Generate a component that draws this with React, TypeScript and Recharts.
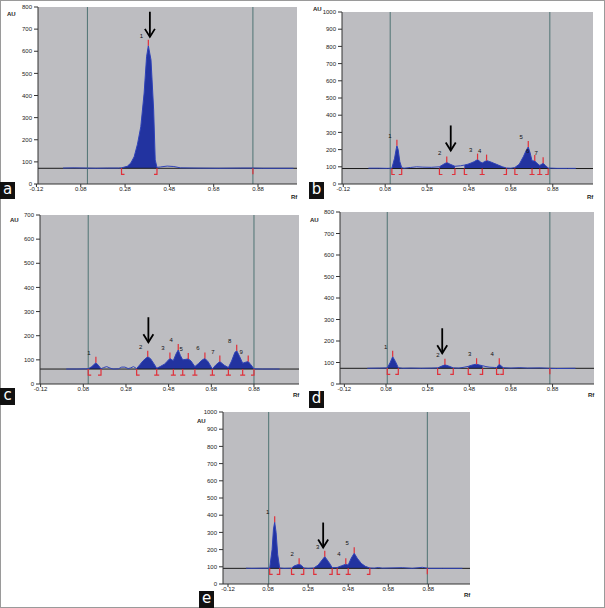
import React from "react";
import { ComposedChart, Area, Line, Scatter, XAxis, YAxis, CartesianGrid, ReferenceLine } from "recharts";

type Pt = [number, number];
// label, start Rf, top Rf, top AU, end Rf
type Peak = [string, number, number, number, number];

const RF_TICKS = [-0.12, 0.08, 0.28, 0.48, 0.68, 0.88];
const AU_TICKS_700 = [0, 100, 200, 300, 400, 500, 600, 700];
const AU_TICKS_800 = [0, 100, 200, 300, 400, 500, 600, 700, 800];
const AU_TICKS_1000 = [0, 100, 200, 300, 400, 500, 600, 700, 800, 900, 1000];

// a
const traceA: Pt[] = [
  [0.0, 72], [0.05, 73], [0.1, 72], [0.15, 71], [0.2, 72], [0.25, 72], [0.264, 73], [0.29, 80],
  [0.306, 95], [0.321, 123], [0.336, 180], [0.351, 259], [0.366, 411], [0.377, 575], [0.385, 625],
  [0.397, 561], [0.409, 335], [0.416, 109], [0.424, 75], [0.44, 77], [0.47, 81], [0.5, 79],
  [0.53, 73], [0.6, 72], [0.7, 71], [0.8, 72], [0.857, 72], [0.9, 71], [1.04, 71],
];
const peaksA: Peak[] = [["1", 0.264, 0.385, 625, 0.424]];
const frontsA = [0.11, 0.857];
const marksA = [0.857];
const arrowA: Pt = [0.392, 665];
const baseA = 71;

// b
const traceB: Pt[] = [
  [0.0, 92], [0.05, 92], [0.09, 91], [0.112, 92], [0.125, 150], [0.133, 205], [0.136, 222],
  [0.142, 200], [0.15, 130], [0.159, 95], [0.17, 92], [0.2, 96], [0.23, 100], [0.26, 98],
  [0.3, 97], [0.339, 100], [0.355, 112], [0.374, 125], [0.39, 115], [0.413, 103], [0.44, 106],
  [0.458, 110], [0.475, 115], [0.49, 122], [0.505, 130], [0.521, 142], [0.535, 128], [0.543, 122],
  [0.552, 128], [0.564, 136], [0.58, 130], [0.6, 120], [0.62, 110], [0.64, 100], [0.659, 93],
  [0.68, 92], [0.699, 96], [0.72, 115], [0.74, 160], [0.755, 200], [0.763, 215], [0.772, 180],
  [0.781, 135], [0.794, 133], [0.81, 115], [0.818, 108], [0.834, 120], [0.845, 108], [0.858, 93],
  [0.9, 91], [0.95, 91], [0.99, 91],
];
const peaksB: Peak[] = [
  ["1", 0.112, 0.136, 222, 0.159],
  ["2", 0.339, 0.374, 125, 0.413],
  ["3", 0.458, 0.521, 142, 0.543],
  ["4", 0.543, 0.564, 136, 0.659],
  ["5", 0.699, 0.763, 215, 0.781],
  ["6", 0.781, 0.794, 133, 0.818],
  ["7", 0.818, 0.834, 120, 0.858],
];
const frontsB = [0.104, 0.866];
const marksB: number[] = [];
const arrowB: Pt = [0.393, 195];
const baseB = 90;

// c
const traceC: Pt[] = [
  [0.0, 62], [0.05, 62], [0.09, 63], [0.103, 63], [0.12, 72], [0.139, 88], [0.15, 78], [0.163, 63],
  [0.175, 68], [0.19, 72], [0.205, 66], [0.22, 62], [0.245, 63], [0.26, 70], [0.275, 70], [0.29, 64],
  [0.3, 66], [0.315, 72], [0.33, 64], [0.345, 80], [0.36, 96], [0.375, 108], [0.382, 113],
  [0.395, 105], [0.41, 85], [0.424, 65], [0.44, 72], [0.46, 82], [0.475, 95], [0.486, 106],
  [0.495, 100], [0.502, 97], [0.515, 125], [0.525, 141], [0.535, 118], [0.546, 100], [0.56, 102],
  [0.572, 104], [0.585, 95], [0.603, 72], [0.62, 85], [0.635, 98], [0.65, 106], [0.665, 92],
  [0.685, 62], [0.7, 78], [0.72, 93], [0.74, 78], [0.76, 68], [0.775, 95], [0.79, 130], [0.799, 138],
  [0.812, 115], [0.827, 86], [0.84, 90], [0.853, 93], [0.865, 80], [0.88, 63], [0.92, 62],
  [0.97, 62], [1.0, 62],
];
const peaksC: Peak[] = [
  ["1", 0.103, 0.139, 88, 0.163],
  ["2", 0.33, 0.382, 113, 0.424],
  ["3", 0.424, 0.486, 106, 0.502],
  ["4", 0.502, 0.525, 141, 0.546],
  ["5", 0.546, 0.572, 104, 0.603],
  ["6", 0.603, 0.65, 106, 0.685],
  ["7", 0.685, 0.72, 93, 0.76],
  ["8", 0.76, 0.799, 138, 0.827],
  ["9", 0.827, 0.853, 93, 0.88],
];
const frontsC = [0.103, 0.88];
const marksC: number[] = [];
const arrowC: Pt = [0.385, 173];
const baseC = 62;

// d
const traceD: Pt[] = [
  [-0.01, 73], [0.05, 74], [0.086, 75], [0.1, 100], [0.112, 127], [0.125, 105], [0.139, 76],
  [0.16, 73], [0.2, 74], [0.25, 73], [0.3, 74], [0.328, 75], [0.345, 82], [0.363, 89], [0.38, 84],
  [0.403, 75], [0.43, 74], [0.455, 78], [0.475, 82], [0.5, 90], [0.515, 92], [0.53, 88], [0.544, 85],
  [0.56, 81], [0.579, 78], [0.6, 77], [0.611, 76], [0.624, 92], [0.643, 76], [0.68, 74],
  [0.723, 76], [0.76, 74], [0.82, 75], [0.86, 73], [0.9, 72], [0.99, 73],
];
const peaksD: Peak[] = [
  ["1", 0.086, 0.112, 127, 0.139],
  ["2", 0.328, 0.363, 89, 0.403],
  ["3", 0.475, 0.515, 92, 0.544],
  ["4", 0.611, 0.624, 92, 0.643],
];
const frontsD = [0.086, 0.867];
const marksD = [0.867];
const arrowD: Pt = [0.35, 143];
const baseD = 73;

// e
const traceE: Pt[] = [
  [-0.03, 92], [0.0, 91], [0.05, 92], [0.088, 92], [0.1, 200], [0.107, 320], [0.113, 359],
  [0.12, 300], [0.128, 170], [0.138, 93], [0.16, 91], [0.197, 92], [0.21, 105], [0.235, 115],
  [0.247, 108], [0.258, 93], [0.28, 91], [0.308, 93], [0.33, 110], [0.35, 140], [0.363, 159],
  [0.375, 140], [0.39, 115], [0.4, 95], [0.425, 96], [0.445, 105], [0.468, 115], [0.48, 110],
  [0.495, 150], [0.51, 179], [0.525, 150], [0.545, 120], [0.565, 103], [0.588, 93], [0.61, 92],
  [0.63, 96], [0.65, 92], [0.75, 95], [0.8, 91], [0.85, 97], [0.88, 91], [0.95, 91], [1.05, 91],
];
const peaksE: Peak[] = [
  ["1", 0.088, 0.113, 359, 0.138],
  ["2", 0.197, 0.235, 115, 0.258],
  ["3", 0.308, 0.363, 159, 0.4],
  ["4", 0.425, 0.468, 115, 0.48],
  ["5", 0.48, 0.51, 179, 0.588],
];
const frontsE = [0.083, 0.875];
const marksE = [0.875];
const arrowE: Pt = [0.355, 212];
const baseE = 91;

const PLOT_BG = "#bdbdc1";
const FILL = "#2233a0";
const TRACE = "#2f42b8";
const RED = "#e0303a";
const FONT = "'Liberation Sans', Arial, sans-serif";

const panels = [
  { key: "a", trace: traceA, peaks: peaksA, fronts: frontsA, marks: marksA, arrow: arrowA, base: baseA, yTicks: AU_TICKS_800,
    box: { x: 38, y: 7, w: 259, h: 177 }, xDomain: [-0.113, 1.056],
    au: [7, 11], rf: [291, 194], tag: [0, 182] },
  { key: "b", trace: traceB, peaks: peaksB, fronts: frontsB, marks: marksB, arrow: arrowB, base: baseB, yTicks: AU_TICKS_1000,
    box: { x: 342, y: 12, w: 251, h: 172 }, xDomain: [-0.126, 1.072],
    au: [313, 6], rf: [587, 194], tag: [309, 182] },
  { key: "c", trace: traceC, peaks: peaksC, fronts: frontsC, marks: marksC, arrow: arrowC, base: baseC, yTicks: AU_TICKS_700,
    box: { x: 40, y: 215, w: 259, h: 169 }, xDomain: [-0.123, 1.091],
    au: [10, 217], rf: [293, 392], tag: [0, 388] },
  { key: "d", trace: traceD, peaks: peaksD, fronts: frontsD, marks: marksD, arrow: arrowD, base: baseD, yTicks: AU_TICKS_800,
    box: { x: 340, y: 212, w: 254, h: 172 }, xDomain: [-0.141, 1.079],
    au: [310, 217], rf: [588, 392], tag: [309, 391] },
  { key: "e", trace: traceE, peaks: peaksE, fronts: frontsE, marks: marksE, arrow: arrowE, base: baseE, yTicks: AU_TICKS_1000,
    box: { x: 223, y: 412, w: 247, h: 172 }, xDomain: [-0.145, 1.088],
    au: [197, 418], rf: [464, 592], tag: [199, 591] },
];

const TopMark = (props: any) => {
  const { cx, cy, payload } = props;
  return (
    <g>
      <line x1={cx} x2={cx} y1={cy - 6} y2={cy} stroke={RED} strokeWidth={1.2} />
      <text x={cx - 7} y={cy - 8} fontSize={6} fill="#111" textAnchor="middle" fontFamily={FONT}>
        {payload.label}
      </text>
    </g>
  );
};

const BoundMark = (props: any) => {
  const { cx, cy, payload } = props;
  const k = payload.kind;
  let d = `M${cx},${cy} V${cy + 6}`;
  if (k === "s") d += ` H${cx + 3}`;
  if (k === "e") d += ` H${cx - 3}`;
  if (k === "j") d = `M${cx},${cy} V${cy + 6} M${cx - 2.5},${cy + 6} H${cx + 2.5}`;
  return <path d={d} stroke={RED} strokeWidth={1.2} fill="none" />;
};

const ArrowMark = (props: any) => {
  const { cx, cy } = props;
  return (
    <g stroke="#000" strokeWidth={1.8} fill="none">
      <line x1={cx} x2={cx} y1={cy - 25} y2={cy} />
      <polyline points={`${cx - 5},${cy - 8} ${cx},${cy} ${cx + 5},${cy - 8}`} />
    </g>
  );
};

const Panel = ({ p }: { p: any }) => {
  const inPeak = (rf: number) => p.peaks.some((k: Peak) => rf >= k[1] - 1e-6 && rf <= k[4] + 1e-6);
  const rows = p.trace.map(([rf, au]: Pt) => ({ rf, au, fill: inPeak(rf) ? au : null }));
  const tops = p.peaks.map((k: Peak) => ({ rf: k[2], au: k[3], label: k[0] }));
  const starts = p.peaks.map((k: Peak) => k[1]);
  const ends = p.peaks.map((k: Peak) => k[4]);
  const bounds: any[] = [];
  starts.forEach((s: number) => bounds.push({ rf: s, au: p.base, kind: ends.includes(s) ? "j" : "s" }));
  ends.forEach((e: number) => { if (!starts.includes(e)) bounds.push({ rf: e, au: p.base, kind: "e" }); });
  p.marks.forEach((m: number) => bounds.push({ rf: m, au: p.base, kind: "f" }));
  const arrow = [{ rf: p.arrow[0], au: p.arrow[1] }];
  const { x, y, w, h } = p.box;

  return (
    <>
      <div style={{ position: "absolute", left: x - 30, top: y - 5 }}>
        <ComposedChart width={w + 35} height={h + 20} data={rows} margin={{ top: 5, right: 5, bottom: 0, left: 0 }}>
          <CartesianGrid fill={PLOT_BG} stroke="none" horizontal={false} vertical={false} />
          <XAxis type="number" dataKey="rf" domain={p.xDomain} ticks={RF_TICKS} interval={0} allowDataOverflow
            tickFormatter={(v: number) => v.toFixed(2)} height={15} tickSize={3} tickMargin={0}
            stroke="#333" tick={{ fontSize: 6, fill: "#222", fontFamily: FONT }} />
          <YAxis type="number" domain={[0, p.yTicks[p.yTicks.length - 1]]} ticks={p.yTicks} interval={0} width={30}
            tickSize={4} tickMargin={2} stroke="#333" tick={{ fontSize: 6, fill: "#222", fontFamily: FONT }} />
          <ReferenceLine y={p.base} stroke="#1a1a1a" strokeWidth={1} />
          {p.fronts.map((f: number) => (
            <ReferenceLine key={f} x={f} stroke="#4f7373" strokeWidth={1} />
          ))}
          <Area type="linear" dataKey="fill" baseValue={p.base} stroke="none" fill={FILL} fillOpacity={1}
            connectNulls={false} isAnimationActive={false} />
          <Line type="linear" dataKey="au" stroke={TRACE} strokeWidth={1} dot={false} isAnimationActive={false} />
          <Scatter data={bounds} dataKey="au" shape={BoundMark} isAnimationActive={false} />
          <Scatter data={tops} dataKey="au" shape={TopMark} isAnimationActive={false} />
          <Scatter data={arrow} dataKey="au" shape={ArrowMark} isAnimationActive={false} />
        </ComposedChart>
      </div>
      <div style={{ position: "absolute", left: p.au[0], top: p.au[1], fontSize: 6, fontWeight: "bold", color: "#222", fontFamily: FONT }}>AU</div>
      <div style={{ position: "absolute", left: p.rf[0], top: p.rf[1], fontSize: 6, fontWeight: "bold", color: "#222", fontFamily: FONT }}>Rf</div>
      <div style={{ position: "absolute", left: p.tag[0], top: p.tag[1], width: 15, height: 17, background: "#111", color: "#fff",
        fontSize: 15, lineHeight: "15px", textAlign: "center", fontFamily: "'DejaVu Sans', Arial, sans-serif" }}>{p.key}</div>
    </>
  );
};

export default function App() {
  return (
    <div style={{ position: "absolute", left: 0, top: 0, width: 605, height: 608, background: "#fff", overflow: "hidden" }}>
      <div style={{ position: "absolute", left: 0, top: 0, width: 605, height: 608, boxSizing: "border-box", border: "1px solid #9a9a9a" }} />
      {panels.map((p) => (
        <Panel key={p.key} p={p} />
      ))}
    </div>
  );
}
